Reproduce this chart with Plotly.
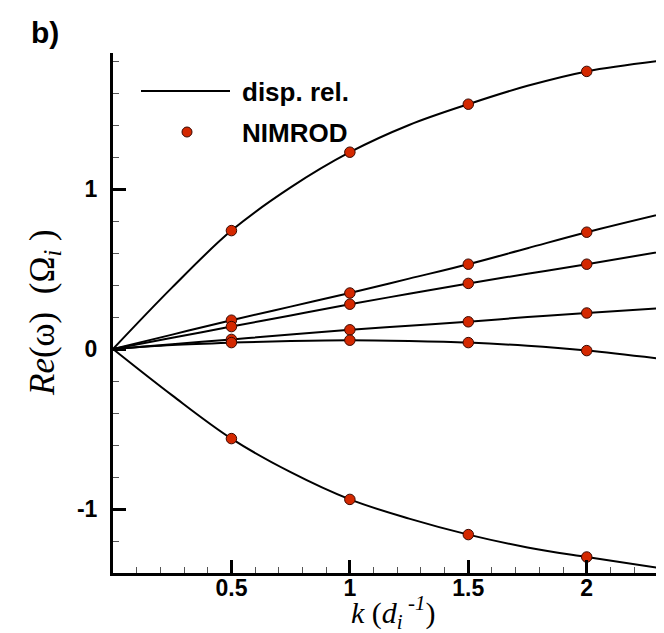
import plotly.graph_objects as go

# ---- data ----
k_curve = [0.0, 0.25, 0.5, 0.75, 1.0, 1.25, 1.5, 1.75, 2.0, 2.36]
disp_1 = [0.0, 0.385, 0.74, 1.01, 1.23, 1.40, 1.53, 1.645, 1.735, 1.81]
disp_2 = [0.0, 0.09, 0.18, 0.265, 0.35, 0.44, 0.53, 0.63, 0.73, 0.86]
disp_3 = [0.0, 0.07, 0.14, 0.21, 0.28, 0.345, 0.41, 0.47, 0.53, 0.62]
disp_4 = [0.0, 0.03, 0.06, 0.09, 0.12, 0.145, 0.17, 0.20, 0.225, 0.26]
disp_5 = [0.0, 0.025, 0.04, 0.05, 0.055, 0.05, 0.04, 0.02, -0.01, -0.07]
disp_6 = [0.0, -0.29, -0.56, -0.77, -0.94, -1.06, -1.16, -1.24, -1.30, -1.38]

k_nimrod = [0.5, 1.0, 1.5, 2.0]
nim_1 = [0.74, 1.23, 1.53, 1.735]
nim_2 = [0.18, 0.35, 0.53, 0.73]
nim_3 = [0.14, 0.28, 0.41, 0.53]
nim_4 = [0.06, 0.12, 0.17, 0.225]
nim_5 = [0.04, 0.055, 0.04, -0.01]
nim_6 = [-0.56, -0.94, -1.16, -1.30]

x_tickvals = [0.5, 1.0, 1.5, 2.0]
x_ticktext = ["0.5", "1", "1.5", "2"]
y_tickvals = [-1, 0, 1]
y_ticktext = ["-1", "0", "1"]

MARKER_COLOR = "#d42800"
MARKER_EDGE = "#3a0800"

fig = go.Figure()
for ys in [disp_1, disp_2, disp_3, disp_4, disp_5, disp_6]:
    fig.add_trace(go.Scatter(x=k_curve, y=ys, mode="lines",
                             line=dict(color="black", width=2, shape="spline"),
                             showlegend=False, hoverinfo="skip"))
for ys in [nim_1, nim_2, nim_3, nim_4, nim_5, nim_6]:
    fig.add_trace(go.Scatter(x=k_nimrod, y=ys, mode="markers",
                             marker=dict(size=10.5, color=MARKER_COLOR,
                                         line=dict(color=MARKER_EDGE, width=1)),
                             showlegend=False))

L, R, T, B = 105, 0, 45, 68
W, H = 664, 633
pw, ph = W - L - R, H - T - B

def px(x):
    return (x - L) / pw

def py(y):
    return (H - B - y) / ph

tickfont = dict(family="Liberation Sans", size=23, color="black", weight="bold")

fig.update_layout(
    width=W, height=H,
    margin=dict(l=L, r=R, t=T, b=B, pad=0),
    paper_bgcolor="white", plot_bgcolor="white",
    xaxis=dict(range=[0, 2.36], tickvals=x_tickvals, ticktext=x_ticktext,
               ticks="inside", ticklen=13, tickwidth=2.5, tickcolor="black",
               showline=True, linewidth=3, linecolor="black",
               showgrid=False, zeroline=False, tickfont=tickfont,
               ticklabelstandoff=-8,
               minor=dict(dtick=0.1, tick0=0, ticks="inside", ticklen=6,
                          tickwidth=1, tickcolor="#555", showgrid=False)),
    yaxis=dict(range=[-1.40, 1.85], tickvals=y_tickvals, ticktext=y_ticktext,
               ticks="inside", ticklen=13, tickwidth=2.5, tickcolor="black",
               showline=True, linewidth=3, linecolor="black",
               showgrid=False, zeroline=False, tickfont=tickfont,
               ticklabelstandoff=8,
               minor=dict(dtick=0.2, tick0=0, ticks="inside", ticklen=6,
                          tickwidth=1, tickcolor="#555", showgrid=False)),
    showlegend=False,
)

# legend (drawn manually)
fig.add_shape(type="line", xref="paper", yref="paper",
              x0=px(133), x1=px(222), y0=py(83), y1=py(83),
              line=dict(color="black", width=2))
fig.add_shape(type="circle", xref="paper", yref="paper",
              xsizemode="pixel", ysizemode="pixel",
              xanchor=px(179), yanchor=py(124),
              x0=-5, x1=5, y0=-5, y1=5,
              fillcolor=MARKER_COLOR, line=dict(color=MARKER_EDGE, width=1))
legfont = dict(family="Liberation Sans", size=26, color="black", weight="bold")
fig.add_annotation(xref="paper", yref="paper", x=px(232), y=py(84),
                   text="disp. rel.", showarrow=False, xanchor="left",
                   yanchor="middle", font=legfont)
fig.add_annotation(xref="paper", yref="paper", x=px(232), y=py(125),
                   text="NIMROD", showarrow=False, xanchor="left",
                   yanchor="middle", font=legfont)

# panel label
fig.add_annotation(xref="paper", yref="paper", x=px(21), y=py(25),
                   text="b)", showarrow=False, xanchor="left", yanchor="middle",
                   font=dict(family="Liberation Sans", size=30, color="black",
                             weight="bold"))

# axis titles
fig.add_annotation(xref="paper", yref="paper", x=px(36), y=py(305),
                   text="<i>Re</i>(ω)  (Ω<sub><i>i</i></sub> )",
                   textangle=-90, showarrow=False,
                   xanchor="center", yanchor="middle",
                   font=dict(family="Liberation Serif", size=35, color="black"))
fig.add_annotation(xref="paper", yref="paper", x=0.5, y=py(604),
                   text="<i>k</i> (<i>d</i><sub><i>i</i></sub><sup> <i>-1</i></sup>)",
                   showarrow=False, xanchor="center", yanchor="middle",
                   font=dict(family="Liberation Serif", size=30, color="black"))

fig.write_html("out.html")
